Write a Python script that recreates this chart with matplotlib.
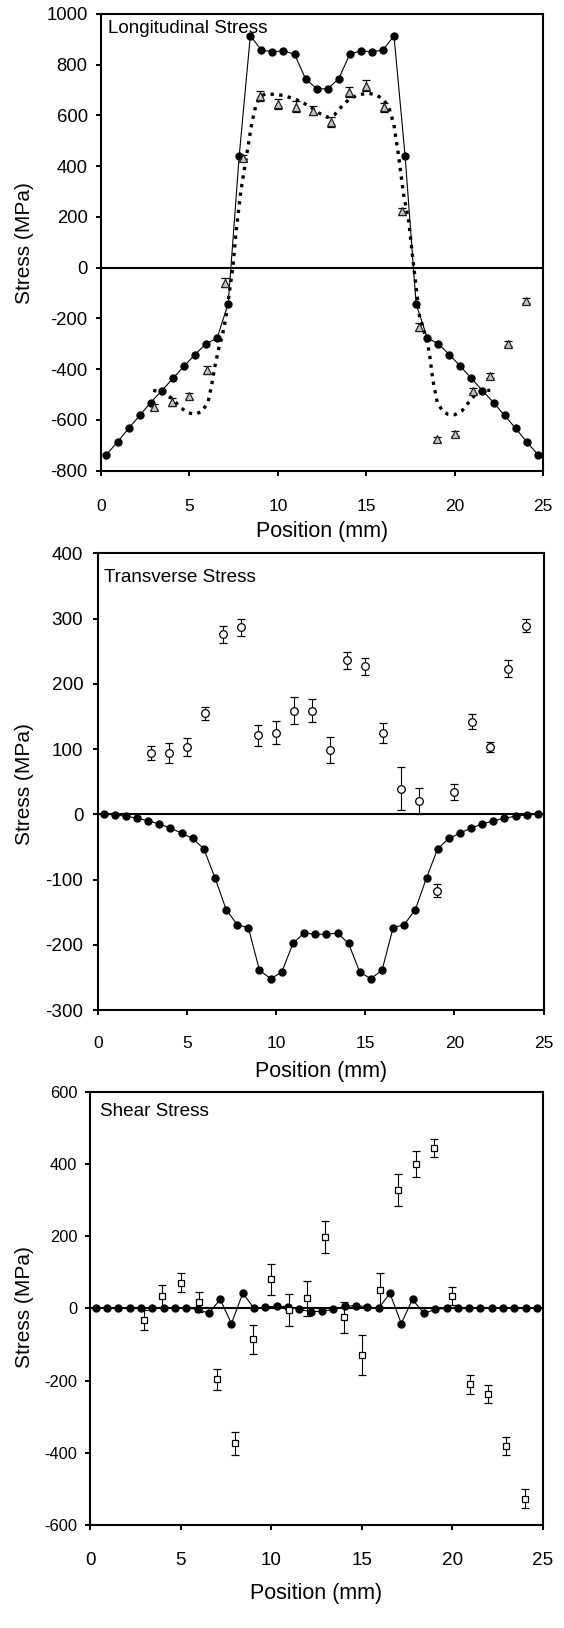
import matplotlib
matplotlib.use("Agg")
import matplotlib.pyplot as plt

plt.rcParams['font.family'] = ['Liberation Sans', 'DejaVu Sans']
plt.rcParams['axes.unicode_minus'] = False

# ---------------- data ----------------
pos_model = [0.31, 0.94, 1.56, 2.19, 2.81, 3.44, 4.06, 4.69, 5.31, 5.94,
             6.56, 7.19, 7.81, 8.44, 9.06, 9.69, 10.31, 10.94, 11.56, 12.19,
             12.81, 13.44, 14.06, 14.69, 15.31, 15.94, 16.56, 17.19, 17.81, 18.44,
             19.06, 19.69, 20.31, 20.94, 21.56, 22.19, 22.81, 23.44, 24.06, 24.69]

long_model = [-737, -687, -634, -583, -532, -485, -437, -389, -343, -300,
              -278, -142, 439, 914, 858, 851, 855, 841, 745, 705,
              705, 745, 841, 855, 851, 858, 914, 439, -142, -278,
              -300, -343, -389, -437, -485, -532, -583, -634, -687, -737]

trans_model = [0, -1, -3, -6, -10, -15, -21, -29, -37, -53,
               -97, -146, -169, -174, -239, -252, -242, -198, -182, -184,
               -184, -182, -198, -242, -252, -239, -174, -169, -146, -97,
               -53, -37, -29, -21, -15, -10, -6, -3, -1, 0]

shear_model = [0, 0, 0, 0, 0, 0, 0, 0, 0, -2,
               -14, 25, -42, 42, 0, 4, 6, 5, -3, -9,
               -8, -3, 6, 7, 5, 0, 42, -42, 25, -14,
               -3, 0, 0, 0, 0, 0, 0, 0, 0, 0]

pos_meas = [3, 4, 5, 6, 7, 8, 9, 10, 11, 12, 13, 14, 15, 16, 17, 18, 19, 20, 21, 22, 23, 24]

long_meas = [-548, -530, -506, -403, -60, 434, 676, 645, 635, 619, 573,
             692, 718, 632, 222, -234, -677, -655, -485, -426, -300, -131]
long_err = [12, 15, 12, 15, 18, 12, 20, 20, 20, 18, 20,
            20, 22, 18, 15, 15, 10, 10, 10, 10, 10, 10]

trans_meas = [94, 94, 103, 155, 276, 287, 121, 125, 159, 159, 98,
              236, 227, 125, 39, 20, -117, 34, 142, 103, 223, 289]
trans_err = [11, 16, 14, 10, 13, 13, 16, 18, 20, 17, 20,
             13, 13, 15, 33, 20, 10, 12, 12, 8, 13, 10]

shear_meas = [-32, 35, 71, 17, -197, -374, -86, 81, -5, 28, 198,
              -25, -130, 51, 328, 400, 445, 34, -210, -237, -381, -527]
shear_err = [28, 30, 27, 28, 28, 32, 40, 43, 45, 49, 44,
             42, 55, 48, 44, 37, 25, 26, 26, 25, 26, 27]

# smoothed longitudinal fit (dotted curve)
fit_x = [2.95, 3.5, 4.0, 4.5, 4.9, 5.3, 5.7, 6.05, 6.25, 6.45, 6.65, 6.85,
         7.05, 7.25, 7.45, 7.65, 7.9, 8.2, 8.5, 8.75, 9.0, 9.3, 9.8, 10.3,
         10.8, 11.3, 11.8, 12.3, 12.8, 13.2, 13.6, 14.0, 14.5, 15.1, 15.6,
         16.0, 16.3, 16.55, 16.8, 17.1, 17.4, 17.6, 17.8, 18.0, 18.3, 18.55,
         18.75, 19.0, 19.3, 19.6, 20.0, 20.4, 20.8, 21.2, 21.6, 22.0]
fit_y = [-484, -492, -515, -552, -572, -578, -568, -530, -465, -385, -320, -270,
         -200, -100, 0, 150, 300, 430, 560, 640, 675, 685, 683, 679,
         668, 655, 635, 610, 593, 603, 635, 662, 681, 688, 680,
         660, 625, 566, 450, 290, 180, 50, -70, -190, -260, -330,
         -440, -530, -565, -578, -580, -565, -530, -497, -485, -484]

xticks = [0, 5, 10, 15, 20, 25]
long_yticks = [-800, -600, -400, -200, 0, 200, 400, 600, 800, 1000]
trans_yticks = [-300, -200, -100, 0, 100, 200, 300, 400]
shear_yticks = [-600, -400, -200, 0, 200, 400, 600]

# ---------------- layout ----------------
W, H = 564, 1628
fig = plt.figure(figsize=(W / 100, H / 100), dpi=100)


def axes_px(l, t, r, b):
    return fig.add_axes([l / W, 1 - b / H, (r - l) / W, (b - t) / H])


def style(ax, yticks, ylim, ytsize, xtsize, xpad, ypad):
    ax.set_xlim(0, 25)
    ax.set_ylim(*ylim)
    ax.set_xticks(xticks)
    ax.set_yticks(yticks)
    for s in ax.spines.values():
        s.set_linewidth(1.5)
    ax.tick_params(axis='both', direction='out', length=3.6, width=1.4)
    ax.tick_params(axis='x', labelsize=xtsize, pad=xpad)
    ax.tick_params(axis='y', labelsize=ytsize, pad=ypad)
    ax.axhline(0, color='black', lw=1.5, zorder=1)


line_kw = dict(color='black', lw=0.8, marker='o', ms=5, mfc='black', mec='black', zorder=3)
err_kw = dict(ls='none', ecolor='black', elinewidth=0.8, capsize=3, capthick=0.8, zorder=4)

# Top panel
ax1 = axes_px(101, 14, 543.3, 470.5)
style(ax1, long_yticks, (-800, 1000), 13.3, 12.5, 17.0, 6.0)
ax1.plot(pos_model, long_model, **line_kw)
ax1.plot(fit_x, fit_y, color='black', lw=2.4, ls=(0, (1, 1.6)), zorder=2)
ax1.errorbar(pos_meas, long_meas, yerr=long_err, marker='^', ms=5.5, mfc='#c4c4c4',
             mec='#222222', mew=0.9, **err_kw)
fig.text(108 / W, 1 - 33 / H, 'Longitudinal Stress', fontsize=13.6, ha='left', va='baseline')
fig.text(24 / W, 1 - 243 / H, 'Stress (MPa)', fontsize=15, rotation=90, ha='center', va='center')
fig.text(322 / W, 1 - 532 / H, 'Position (mm)', fontsize=15.5, ha='center', va='center')

# Middle panel
ax2 = axes_px(98, 553.3, 543.5, 1010)
style(ax2, trans_yticks, (-300, 400), 13.6, 12.5, 15.0, 7.0)
ax2.plot(pos_model, trans_model, **line_kw)
ax2.errorbar(pos_meas, trans_meas, yerr=trans_err, marker='o', ms=5.5, mfc='white',
             mec='black', mew=0.9, **err_kw)
fig.text(104 / W, 1 - 581.5 / H, 'Transverse Stress', fontsize=13.6, ha='left', va='baseline')
fig.text(24 / W, 1 - 784 / H, 'Stress (MPa)', fontsize=15, rotation=90, ha='center', va='center')
fig.text(321 / W, 1 - 1072 / H, 'Position (mm)', fontsize=15.5, ha='center', va='center')

# Bottom panel
ax3 = axes_px(90, 1091.7, 542.7, 1525)
style(ax3, shear_yticks, (-600, 600), 11.8, 13.6, 16.0, 5.5)
ax3.plot(pos_model, shear_model, **line_kw)
ax3.errorbar(pos_meas, shear_meas, yerr=shear_err, marker='s', ms=4.8, mfc='white',
             mec='black', mew=0.9, **err_kw)
fig.text(100 / W, 1 - 1115.5 / H, 'Shear Stress', fontsize=13.6, ha='left', va='baseline')
fig.text(24 / W, 1 - 1307 / H, 'Stress (MPa)', fontsize=15, rotation=90, ha='center', va='center')
fig.text(316.5 / W, 1 - 1594 / H, 'Position (mm)', fontsize=15.5, ha='center', va='center')

fig.savefig('out.png', dpi=100)
